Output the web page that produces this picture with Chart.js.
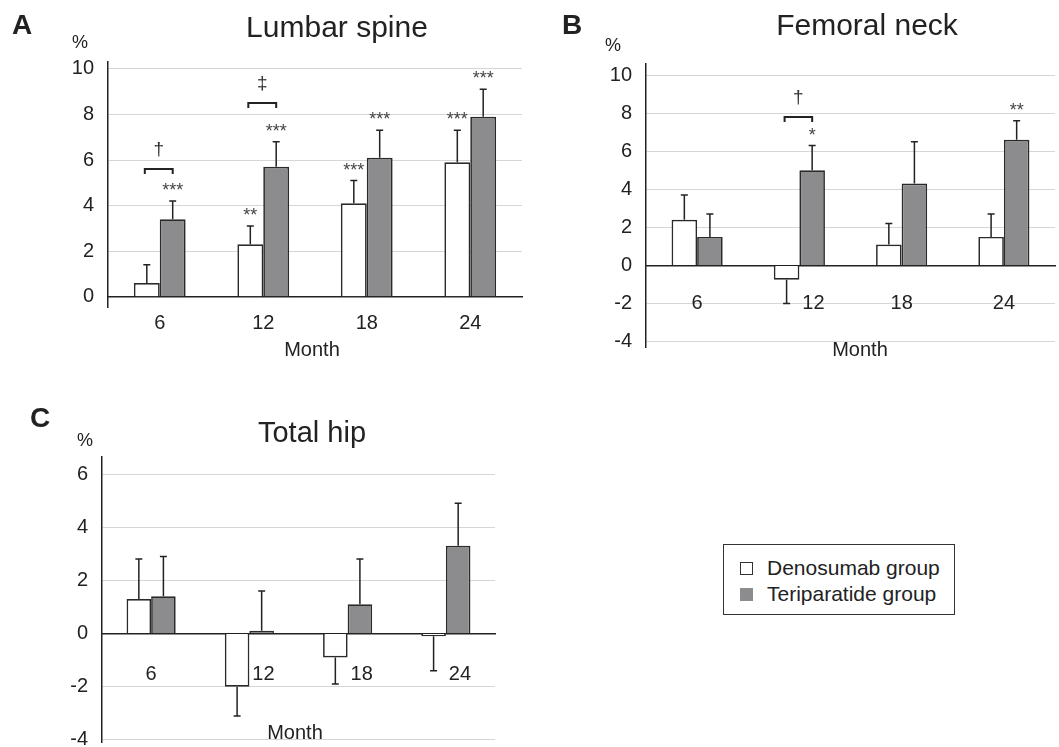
<!DOCTYPE html>
<html>
<head>
<meta charset="utf-8">
<script src="https://cdn.jsdelivr.net/npm/chart.js"></script>
<style>
  body { margin: 0; background: #fff; width: 1059px; height: 747px; position: relative; overflow: hidden;
         font-family: "Liberation Sans", Arial, sans-serif; color: #222; }
  canvas { position: absolute; }
  .txt { position: absolute; white-space: nowrap; line-height: 1; }
  .mid { transform: translateX(-50%); }
  .letter { font-size: 28px; font-weight: bold; }
  .title { font-size: 30px; }
  .pct { font-size: 18px; }
  .month { font-size: 20px; }
  .legend { position: absolute; left: 723px; top: 544px; width: 232px; height: 71px; box-sizing: border-box;
            border: 1px solid #333; font-size: 21px; }
  .legend div { position: absolute; left: 43px; line-height: 1; white-space: nowrap; }
  .legend span { position: absolute; left: -27px; top: 5px; width: 13px; height: 13px; box-sizing: border-box; }
</style>
</head>
<body>
<canvas id="chartA" width="530" height="370" style="left:0;top:0"></canvas>
<canvas id="chartB" width="529" height="385" style="left:530px;top:0"></canvas>
<canvas id="chartC" width="560" height="410" style="left:0;top:370px"></canvas>

<div class="txt letter" style="left:12px;top:11px">A</div>
<div class="txt letter" style="left:562px;top:11px">B</div>
<div class="txt letter" style="left:30px;top:404px">C</div>
<div class="txt title mid" style="left:337px;top:12px">Lumbar spine</div>
<div class="txt title mid" style="left:867px;top:10px">Femoral neck</div>
<div class="txt title mid" style="left:312px;top:418px;font-size:29px">Total hip</div>
<div class="txt pct" style="left:72px;top:33px">%</div>
<div class="txt pct" style="left:605px;top:36px">%</div>
<div class="txt pct" style="left:77px;top:431px">%</div>
<div class="txt month mid" style="left:312px;top:339px">Month</div>
<div class="txt month mid" style="left:860px;top:339px">Month</div>
<div class="txt month mid" style="left:295px;top:722px">Month</div>

<div class="legend">
  <div style="top:12px"><span style="background:#fff;border:1.5px solid #333"></span>Denosumab group</div>
  <div style="top:38px"><span style="background:#8c8c8e"></span>Teriparatide group</div>
</div>

<script>
const months = ["6", "12", "18", "24"];
const seriesNames = ["Denosumab group", "Teriparatide group"];

// A  Lumbar spine
const lumbarDeno = [0.6, 2.3, 4.1, 5.9];
const lumbarDenoSD = [0.8, 0.8, 1.0, 1.4];
const lumbarTeri = [3.4, 5.7, 6.1, 7.9];
const lumbarTeriSD = [0.8, 1.1, 1.2, 1.2];
const lumbarDenoStars = ["", "**", "***", "***"];
const lumbarTeriStars = ["***", "***", "***", "***"];
const lumbarBracket = [5.6, 8.5, null, null];
const lumbarMarks = ["†", "‡", "", ""];
const lumbarTicks = [0, 2, 4, 6, 8, 10];

// B  Femoral neck
const neckDeno = [2.4, -0.75, 1.1, 1.5];
const neckDenoSD = [1.3, 1.25, 1.1, 1.2];
const neckTeri = [1.5, 5.0, 4.3, 6.6];
const neckTeriSD = [1.2, 1.3, 2.2, 1.0];
const neckDenoStars = ["", "", "", ""];
const neckTeriStars = ["", "*", "", "**"];
const neckBracket = [null, 7.8, null, null];
const neckMarks = ["", "†", "", ""];
const neckTicks = [-4, -2, 0, 2, 4, 6, 8, 10];

// C  Total hip
const hipDeno = [1.3, -2.0, -0.9, -0.1];
const hipDenoSD = [1.5, 1.1, 1.0, 1.3];
const hipTeri = [1.4, 0.1, 1.1, 3.3];
const hipTeriSD = [1.5, 1.5, 1.7, 1.6];
const hipNoStars = ["", "", "", ""];
const hipBracket = [null, null, null, null];
const hipMarks = ["", "", "", ""];
const hipTicks = [-4, -2, 0, 2, 4, 6];

const ink = "#222";
const FONT = '"Liberation Sans", Arial, sans-serif';

// error bars, stars, brackets and month labels
const marksPlugin = {
  id: "marks",
  afterDatasetsDraw(chart) {
    const p = chart.options.plugins.marks;
    const ctx = chart.ctx;
    const xs = chart.scales.x, ys = chart.scales.y;
    const zero = ys.getPixelForValue(0);
    ctx.save();
    ctx.strokeStyle = ink;
    ctx.fillStyle = ink;
    ctx.lineWidth = 1.5;
    const tops = [[], []];
    chart.data.datasets.forEach((ds, i) => {
      const meta = chart.getDatasetMeta(i);
      meta.data.forEach((bar, j) => {
        const v = ds.data[j];
        const sd = p.sd[i][j];
        const end = ys.getPixelForValue(v >= 0 ? v + sd : v - sd);
        ctx.beginPath();
        ctx.moveTo(bar.x, bar.y);
        ctx.lineTo(bar.x, end);
        ctx.moveTo(bar.x - 3.5, end);
        ctx.lineTo(bar.x + 3.5, end);
        ctx.stroke();
        tops[i][j] = { x: bar.x, y: end };
        const s = p.stars[i][j];
        if (s) {
          ctx.font = "18px " + FONT;
          ctx.textAlign = "center";
          ctx.textBaseline = "alphabetic";
          ctx.fillStyle = "#444";
          ctx.fillText(s, bar.x, end - 5);
          ctx.fillStyle = ink;
        }
      });
    });
    p.bracket.forEach((b, j) => {
      if (b === null) return;
      const y = ys.getPixelForValue(b);
      const x0 = tops[0][j].x - 2, x1 = tops[1][j].x;
      ctx.lineWidth = 2;
      ctx.beginPath();
      ctx.moveTo(x0, y + 5);
      ctx.lineTo(x0, y);
      ctx.lineTo(x1, y);
      ctx.lineTo(x1, y + 5);
      ctx.stroke();
      ctx.font = "19px " + FONT;
      ctx.textAlign = "center";
      ctx.textBaseline = "middle";
      ctx.fillStyle = "#333";
      ctx.fillText(p.marks[j], (x0 + x1) / 2, y - 19);
      ctx.fillStyle = ink;
    });
    ctx.font = "20px " + FONT;
    ctx.textAlign = "center";
    ctx.textBaseline = "middle";
    months.forEach((m, j) => {
      // labels slide right when the white bar hangs below zero
      const shift = chart.data.datasets[0].data[j] < 0 ? 14 : 0;
      ctx.fillText(m, xs.getPixelForValue(j) + shift, zero + p.labelDy);
    });
    ctx.restore();
  }
};

function makePanel(id, deno, teri, sd, stars, bracket, marks, ticks, lay) {
  return new Chart(document.getElementById(id), {
    type: "bar",
    data: {
      labels: months,
      datasets: [
        { label: seriesNames[0], data: deno, backgroundColor: "#ffffff", borderColor: "#2a2a2a", borderWidth: 1.7 },
        { label: seriesNames[1], data: teri, backgroundColor: "#8c8c8e", borderColor: "#2a2a2a", borderWidth: 1.7 }
      ]
    },
    options: {
      responsive: false,
      animation: false,
      categoryPercentage: 0.5,
      barPercentage: 1.0,
      layout: { padding: { left: 0, top: lay.top, right: lay.right, bottom: lay.bottom } },
      scales: {
        x: {
          type: "category",
          offset: true,
          position: { y: 0 },
          grid: { display: false, drawTicks: false },
          ticks: { display: false },
          border: { color: ink, width: 1.5 }
        },
        y: {
          min: lay.min,
          max: lay.max,
          afterBuildTicks: (scale) => { scale.ticks = ticks.map((v) => ({ value: v })); },
          afterFit: (scale) => { scale.width = lay.axisX; },
          grid: { color: "#d6d6d6", lineWidth: 1, drawTicks: false },
          border: { color: ink, width: 1.5 },
          ticks: { padding: 14, color: ink, font: { family: FONT, size: 20 } }
        }
      },
      plugins: {
        legend: { display: false },
        tooltip: { enabled: false },
        marks: { sd, stars, bracket, marks, labelDy: lay.labelDy }
      }
    },
    plugins: [marksPlugin]
  });
}

makePanel("chartA", lumbarDeno, lumbarTeri, [lumbarDenoSD, lumbarTeriSD],
  [lumbarDenoStars, lumbarTeriStars], lumbarBracket, lumbarMarks, lumbarTicks,
  { top: 62, right: 8, bottom: 63, axisX: 108, min: -0.45, max: 10.3, labelDy: 27 });

makePanel("chartB", neckDeno, neckTeri, [neckDenoSD, neckTeriSD],
  [neckDenoStars, neckTeriStars], neckBracket, neckMarks, neckTicks,
  { top: 64, right: 4, bottom: 38, axisX: 116, min: -4.28, max: 10.58, labelDy: 38 });

makePanel("chartC", hipDeno, hipTeri, [hipDenoSD, hipTeriSD],
  [hipNoStars, hipNoStars], hipBracket, hipMarks, hipTicks,
  { top: 87, right: 65, bottom: 38, axisX: 102, min: -4.08, max: 6.64, labelDy: 41 });
</script>
</body>
</html>
